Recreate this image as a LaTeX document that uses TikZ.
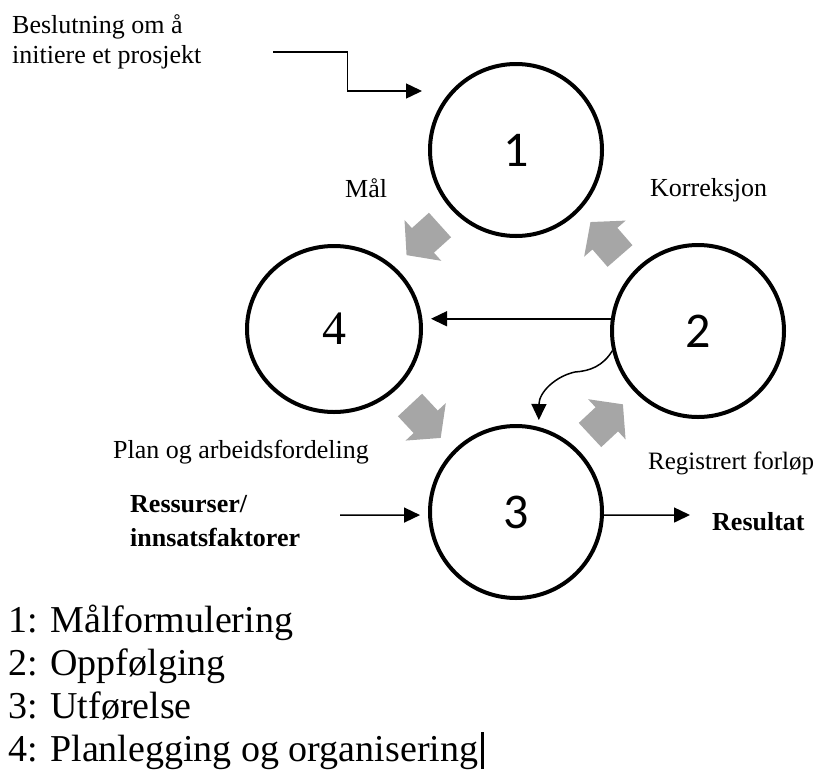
\documentclass[tikz,border=0pt]{standalone}
\usepackage{fontspec}
\setmainfont{Liberation Serif}
\newfontfamily\digitfont{Carlito}
\usetikzlibrary{arrows.meta,shapes.geometric,calc}

\definecolor{arrowgray}{RGB}{166,166,166}

\tikzset{
  stage/.style={draw=black, line width=4pt, circle, minimum size=172pt, inner sep=0pt},
  stagenum/.style={font=\digitfont\fontsize{50}{50}\selectfont},
  label/.style={anchor=base west, inner sep=0pt, font=\fontsize{26}{30}\selectfont},
  boldlabel/.style={label, font=\fontsize{26}{30}\selectfont\bfseries},
  legend/.style={anchor=base west, inner sep=0pt, font=\fontsize{38}{43}\selectfont},
  flow/.style={line width=1.5pt, -{Triangle[length=16pt,width=15pt]}},
  flowarrow/.pic={
    \fill[arrowgray] (0,-16.5) -- (23,-16.5) -- (23,-27.5) -- (45,0)
      -- (23,27.5) -- (23,16.5) -- (0,16.5) -- cycle;
  }
}

\begin{document}
\begin{tikzpicture}[x=1pt, y=-1pt]
  \useasboundingbox (0,0) rectangle (819,769);

  % the four stages of the cycle
  \node[stage, stagenum] (c1) at (516,150) {1};
  \node[stage, stagenum] (c2) at (698,331) {2};
  \node[stage, stagenum] (c3) at (516,512) {3};
  \node[stage, ellipse, minimum width=174pt, minimum height=166pt,
        font=\fontsize{48}{48}\selectfont] (c4) at (334,329) {4};

  % grey block arrows showing the direction of the cycle
  \pic[rotate=222] at (440,225) {flowarrow};
  \pic[rotate=131] at (620,256) {flowarrow};
  \pic[rotate=-47] at (410,405) {flowarrow};
  \pic[rotate=43]  at (590,435) {flowarrow};

  % cycle labels
  \node[label] (lmaal) at (345,197) {Mål};
  \node[label] (lkorr) at (650,196) {Korreksjon};
  \node[label] (lplan) at (113,458) {Plan og arbeidsfordeling};
  \node[label, font=\fontsize{25}{30}\selectfont] (lreg) at (648,469) {Registrert forløp};

  % decision that starts the project
  \node[label] (ldec1) at (12,33) {Beslutning om å};
  \node[label] (ldec2) at (12,63) {initiere et prosjekt};
  \coordinate (decSrc) at (273,52);
  \coordinate (decTip) at (422,91);
  \draw[flow] (decSrc) -| ($(decSrc)!.5!(decTip)$) |- (decTip);

  % inputs and outputs of stage 3
  \node[boldlabel] (lres1) at (130,512) {Ressurser/};
  \node[boldlabel] (lres2) at (130,546) {innsatsfaktorer};
  \node[boldlabel] (lout)  at (712,530) {Resultat};
  \coordinate (resSrc) at (340,515);
  \coordinate (outTip) at (690,515);
  \draw[flow, shorten >=8pt] (resSrc) -- (c3.182);
  \draw[flow] (c3.358) -- (outTip);

  % feedback from stage 2
  \draw[flow, shorten >=8pt] (c2.172.6) -- (c2.172.6 -| c4.east);
  \coordinate (wig) at (575,372);
  \draw[flow, shorten >=7pt] (c2.193) .. controls (603,366) and (590,371) .. (wig)
        .. controls (556,376) and (539,392) .. (c3.75);

  % legend
  \node[legend] (k1) at (8,632) {1: Målformulering};
  \node[legend] (k2) at (8,675) {2: Oppfølging};
  \node[legend] (k3) at (8,718) {3: Utførelse};
  \node[legend] (k4) at (8,761) {4: Planlegging og organisering};
  \draw[line width=2.2pt] (k4.base east) ++(4,-29) coordinate (cursorTop) -- ++(0,37);
\end{tikzpicture}
\end{document}
